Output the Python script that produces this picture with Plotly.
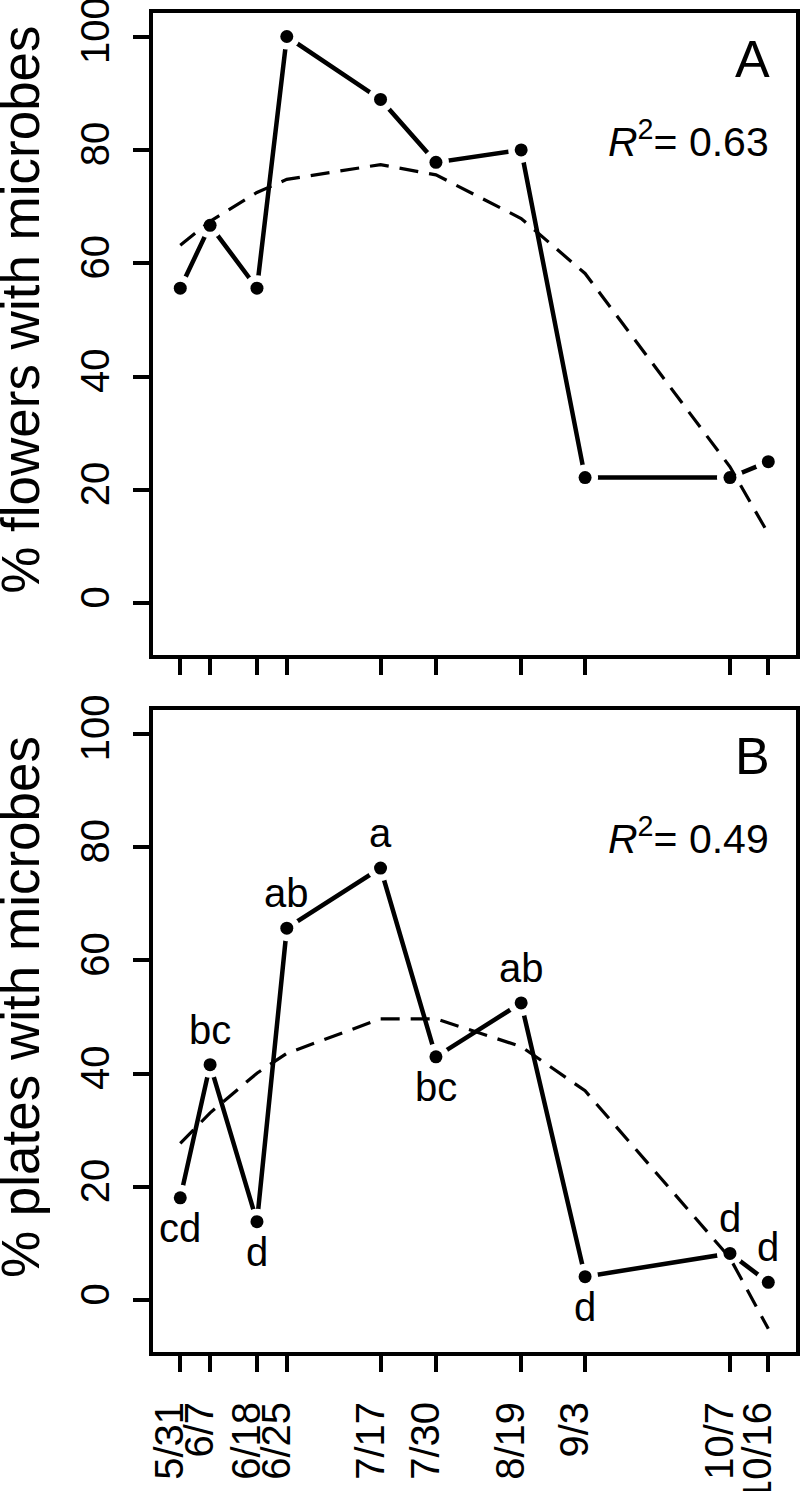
import plotly.graph_objects as go

# ---- data ----
dates = ["5/31", "6/7", "6/18", "6/25", "7/17", "7/30", "8/19", "9/3", "10/7", "10/16"]
day_of_year = [151, 158, 169, 176, 198, 211, 231, 246, 280, 289]

flowers_pct = [55.6, 66.7, 55.6, 100.0, 88.9, 77.8, 80.0, 22.2, 22.2, 25.0]
flowers_fit = [63.2, 67.4, 72.5, 74.8, 77.4, 75.6, 67.9, 58.2, 24.1, 12.3]

plates_pct = [18.1, 41.6, 13.9, 65.7, 76.3, 43.0, 52.5, 4.2, 8.3, 3.2]
plates_fit = [27.7, 33.1, 40.1, 43.6, 49.7, 49.7, 44.8, 37.0, 7.5, -5.0]
plates_letters = ["cd", "bc", "d", "ab", "a", "bc", "ab", "d", "d", "d"]
plates_letter_side = ["below", "above", "below", "above", "above", "below", "above", "below", "above", "above"]

r2_text = ["0.63", "0.49"]
panel_labels = ["A", "B"]
y_titles = ["% flowers with microbes", "% plates with microbes"]
y_ticks = [0, 20, 40, 60, 80, 100]

# ---- layout helpers (pixel -> paper) ----
W, H = 800, 1491
def px(x):
    return x / W
def py(y):
    return 1 - y / H

FONT = "Liberation Sans, Arial, Helvetica, sans-serif"
BLACK = "black"

fig = go.Figure()

panels = [
    dict(y=flowers_pct, fit=flowers_fit, xa="x", ya="y"),
    dict(y=plates_pct, fit=plates_fit, xa="x2", ya="y2"),
]

for p in panels:
    # solid connecting line
    fig.add_trace(go.Scatter(x=day_of_year, y=p["y"], mode="lines",
                             line=dict(color=BLACK, width=4.5),
                             xaxis=p["xa"], yaxis=p["ya"], showlegend=False, hoverinfo="skip"))
    # white halo to create the R type="b" gaps
    fig.add_trace(go.Scatter(x=day_of_year, y=p["y"], mode="markers",
                             marker=dict(color="white", size=26, line=dict(width=0)),
                             xaxis=p["xa"], yaxis=p["ya"], showlegend=False, hoverinfo="skip"))
    # points
    fig.add_trace(go.Scatter(x=day_of_year, y=p["y"], mode="markers",
                             marker=dict(color=BLACK, size=13, line=dict(width=0)),
                             xaxis=p["xa"], yaxis=p["ya"], showlegend=False))
    # quadratic fit (dashed)
    fig.add_trace(go.Scatter(x=day_of_year, y=p["fit"], mode="lines",
                             line=dict(color=BLACK, width=3.2, dash="19px,11px"),
                             xaxis=p["xa"], yaxis=p["ya"], showlegend=False, hoverinfo="skip"))

annotations = []
# significance letters on panel B
for d, v, lab, side in zip(day_of_year, plates_pct, plates_letters, plates_letter_side):
    annotations.append(dict(x=d, y=v, xref="x2", yref="y2", text=lab, showarrow=False,
                            font=dict(family=FONT, size=40, color=BLACK),
                            xanchor="center", yanchor="middle",
                            yshift=35 if side == "above" else -30))

# panel letters, R^2, y titles
panel_geom = [
    dict(top=12.7, bottom=655.0),
    dict(top=710.0, bottom=1352.0),
]
for i, g in enumerate(panel_geom):
    annotations.append(dict(x=px(772), y=py(g["top"] + 46), xref="paper", yref="paper",
                            text=panel_labels[i], showarrow=False,
                            font=dict(family=FONT, size=52, color=BLACK),
                            xanchor="right", yanchor="middle"))
    annotations.append(dict(x=px(771), y=py(g["top"] + 126), xref="paper", yref="paper",
                            text="<i>R</i><sup>2</sup>= " + r2_text[i], showarrow=False,
                            font=dict(family=FONT, size=41, color=BLACK),
                            xanchor="right", yanchor="middle"))
    annotations.append(dict(x=px(21), y=py((g["top"] + g["bottom"]) / 2 - 24), xref="paper", yref="paper",
                            text=y_titles[i], showarrow=False, textangle=-90,
                            font=dict(family=FONT, size=53, color=BLACK),
                            xanchor="center", yanchor="middle"))

x_range = [144.6, 295.5]
y_range = [-9.1, 104.2]
xdom = [px(153), px(796)]

axis_common = dict(showline=True, linewidth=4, linecolor=BLACK, mirror=True,
                   ticks="outside", ticklen=16, tickwidth=4, tickcolor=BLACK,
                   showgrid=False, zeroline=False, automargin=False,
                   ticklabeloverflow="allow",
                   tickfont=dict(family=FONT, size=40, color=BLACK))

fig.update_layout(
    width=W, height=H,
    margin=dict(l=0, r=0, t=0, b=0),
    paper_bgcolor="white", plot_bgcolor="white",
    xaxis=dict(domain=xdom, range=x_range, tickmode="array", tickvals=day_of_year,
               ticktext=dates, showticklabels=False, anchor="y", **axis_common),
    yaxis=dict(domain=[py(655.0), py(12.7)], range=y_range, tickmode="array", tickvals=y_ticks,
               tickangle=-90, anchor="x", ticklabelstandoff=8, **axis_common),
    xaxis2=dict(domain=xdom, range=x_range, tickmode="array", tickvals=day_of_year,
                ticktext=dates, tickangle=-90, anchor="y2", ticklabelstandoff=14,
                ticklabelshift=-10, **axis_common),
    yaxis2=dict(domain=[py(1352.0), py(710.0)], range=y_range, tickmode="array", tickvals=y_ticks,
                tickangle=-90, anchor="x2", ticklabelstandoff=8, **axis_common),
    annotations=annotations,
)

fig.write_html("out.html", config={"displayModeBar": False},
               post_script="document.body.style.margin='0';document.body.style.overflow='hidden';")
